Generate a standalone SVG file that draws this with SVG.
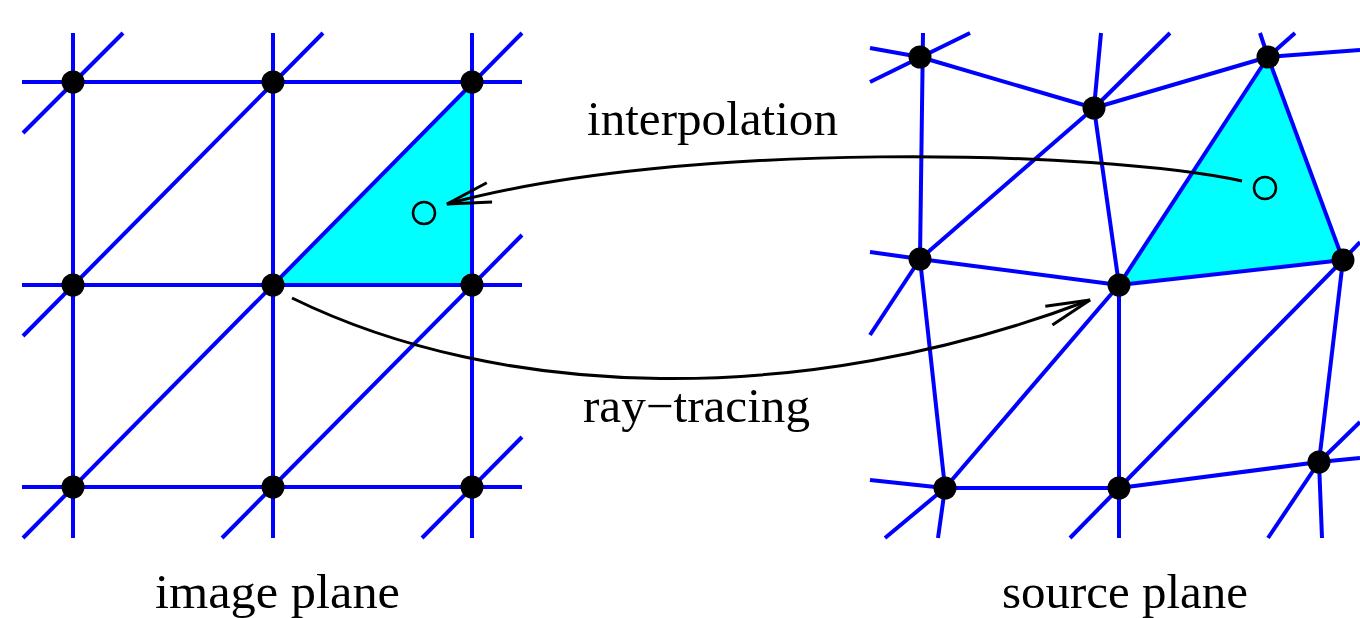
<svg xmlns="http://www.w3.org/2000/svg" width="1360" height="618" viewBox="0 0 1360 618">
<style>
.g{stroke:#0000ff;stroke-width:4;fill:none;stroke-linecap:butt}
.tri{fill:#00ffff;stroke:none}
.n{fill:#000}
.o{fill:none;stroke:#000;stroke-width:2.5}
.c{fill:none;stroke:#000;stroke-width:3}
.t{font-family:"Liberation Serif","Times New Roman",serif;font-size:48px;fill:#000}
</style>
<defs>
<marker id="ah" markerUnits="userSpaceOnUse" markerWidth="60" markerHeight="30" refX="46" refY="15" orient="auto" viewBox="0 0 60 30" overflow="visible">
<path d="M2,5 L46,15 L2,25" fill="none" stroke="#000" stroke-width="3"/>
</marker>
</defs>
<rect width="1360" height="618" fill="#fff"/>
<g id="image-plane">
<polygon class="tri" points="273,285 472,82 472,285"/>
<g class="g">
<line x1="22" y1="82" x2="522" y2="82"/>
<line x1="22" y1="285" x2="522" y2="285"/>
<line x1="22" y1="487" x2="522" y2="487"/>
<line x1="73" y1="33" x2="73" y2="538"/>
<line x1="273" y1="33" x2="273" y2="538"/>
<line x1="472" y1="33" x2="472" y2="538"/>
<line x1="23" y1="133" x2="123" y2="33"/>
<line x1="23" y1="336" x2="323" y2="33"/>
<line x1="23" y1="538" x2="522" y2="33"/>
<line x1="222" y1="538" x2="522" y2="235"/>
<line x1="422" y1="538" x2="522" y2="437"/>
</g>
<g class="n">
<circle cx="73" cy="82" r="11.5"/><circle cx="273" cy="82" r="11.5"/><circle cx="472" cy="82" r="11.5"/>
<circle cx="73" cy="285" r="11.5"/><circle cx="273" cy="285" r="11.5"/><circle cx="472" cy="285" r="11.5"/>
<circle cx="73" cy="487" r="11.5"/><circle cx="273" cy="487" r="11.5"/><circle cx="472" cy="487" r="11.5"/>
</g>
<circle class="o" cx="424" cy="213" r="11"/>
</g>
<g id="source-plane">
<polygon class="tri" points="1268,57 1119,285 1343,260"/>
<g class="g">
<line x1="870" y1="48" x2="920" y2="57"/>
<line x1="870" y1="82" x2="970" y2="33"/>
<line x1="923" y1="33" x2="920" y2="259"/>
<line x1="920" y1="57" x2="1094" y2="108"/>
<line x1="1101" y1="33" x2="1094" y2="108"/>
<line x1="1170" y1="33" x2="1094" y2="108"/>
<line x1="1094" y1="108" x2="1268" y2="57"/>
<line x1="1094" y1="108" x2="920" y2="259"/>
<line x1="1094" y1="108" x2="1119" y2="285"/>
<line x1="1260" y1="33" x2="1268" y2="57"/>
<line x1="1295" y1="33" x2="1268" y2="57"/>
<line x1="1268" y1="57" x2="1360" y2="50"/>
<line x1="1268" y1="57" x2="1119" y2="285"/>
<line x1="1268" y1="57" x2="1343" y2="260"/>
<line x1="870" y1="252" x2="920" y2="259"/>
<line x1="920" y1="259" x2="1119" y2="285"/>
<line x1="920" y1="259" x2="870" y2="335"/>
<line x1="920" y1="259" x2="945" y2="488"/>
<line x1="1119" y1="285" x2="1343" y2="260"/>
<line x1="1119" y1="285" x2="1119" y2="538"/>
<line x1="1119" y1="285" x2="945" y2="488"/>
<line x1="1343" y1="260" x2="1360" y2="242"/>
<line x1="1343" y1="260" x2="1319" y2="462"/>
<line x1="1343" y1="260" x2="1119" y2="488"/>
<line x1="870" y1="480" x2="945" y2="488"/>
<line x1="945" y1="488" x2="885" y2="538"/>
<line x1="945" y1="488" x2="938" y2="538"/>
<line x1="945" y1="488" x2="1119" y2="488"/>
<line x1="1119" y1="488" x2="1070" y2="538"/>
<line x1="1119" y1="488" x2="1319" y2="462"/>
<line x1="1319" y1="462" x2="1360" y2="458"/>
<line x1="1319" y1="462" x2="1360" y2="422"/>
<line x1="1319" y1="462" x2="1268" y2="538"/>
<line x1="1319" y1="462" x2="1322" y2="538"/>
</g>
<g class="n">
<circle cx="920" cy="57" r="11.5"/><circle cx="1094" cy="108" r="11.5"/><circle cx="1268" cy="57" r="11.5"/>
<circle cx="920" cy="259" r="11.5"/><circle cx="1119" cy="285" r="11.5"/><circle cx="1343" cy="260" r="11.5"/>
<circle cx="945" cy="488" r="11.5"/><circle cx="1119" cy="488" r="11.5"/><circle cx="1319" cy="462" r="11.5"/>
</g>
<circle class="o" cx="1265" cy="188" r="11"/>
</g>
<g id="connectors">
<path class="c" d="M1242,181 C1100,150 680,140 447,204" marker-end="url(#ah)"/>
<path class="c" d="M292,298 C500,400 800,410 1090,300" marker-end="url(#ah)"/>
</g>
<g id="labels">
<text class="t" x="587" y="135" textLength="251" lengthAdjust="spacingAndGlyphs">interpolation</text>
<text class="t" x="583" y="422" textLength="227" lengthAdjust="spacingAndGlyphs">ray−tracing</text>
<text class="t" x="155" y="608" textLength="245" lengthAdjust="spacingAndGlyphs">image plane</text>
<text class="t" x="1002" y="608" textLength="246" lengthAdjust="spacingAndGlyphs">source plane</text>
</g>
</svg>
